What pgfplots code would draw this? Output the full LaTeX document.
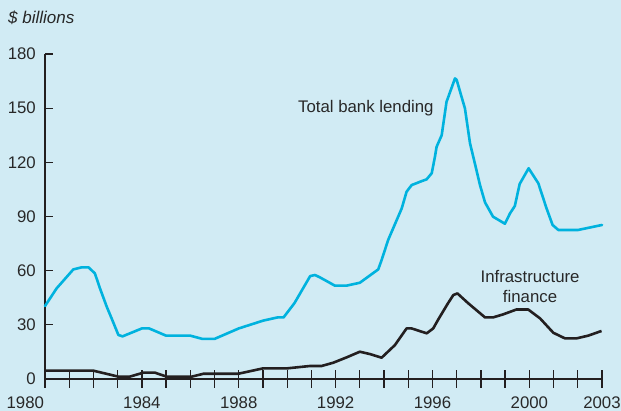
\documentclass[border=0pt]{standalone}
\usepackage{fontspec}
\setmainfont{Liberation Sans}
\usepackage{pgfplots}
\pgfplotsset{compat=1.18}
\definecolor{bg}{RGB}{209,235,244}
\definecolor{cyanl}{RGB}{0,178,222}
\definecolor{darkl}{RGB}{35,31,32}
\definecolor{txt}{RGB}{40,40,40}
\pgfplotsset{common/.style={
  at={(0pt,0pt)}, anchor=south west,
  scale only axis, width=557pt, height=325pt,
  xmin=1980, xmax=2003, ymin=0, ymax=180,
  tick style={draw=darkl, line width=1.3pt},
  /pgf/number format/assume math mode=true,
  /pgf/number format/1000 sep={},
  ticklabel style={font=\fontsize{16.8}{20}\selectfont, text=txt, inner sep=0pt},
  clip=false,
}}
\begin{document}
\begin{tikzpicture}
\path[use as bounding box, fill=bg] (-45pt,-32pt) rectangle (576pt,379pt);
\node[anchor=west, inner sep=0pt, text=txt, font=\fontsize{17}{20}\selectfont\itshape] at (-37pt,361pt) {\$ billions};
\begin{axis}[common,
  axis x line=none, axis y line=left,
  axis line style={-, draw=darkl, line width=1.3pt},
  y axis line style={-},
  xtick=\empty,
  ytick={0,30,60,90,120,150,180},
  tick align=inside, major tick length=8pt,
  yticklabel style={anchor=east, xshift=-9pt},
]
\addplot[cyanl, line width=2.6pt, line join=round, line cap=round] coordinates {
(1980.0,40.4) (1980.48,50.2) (1981.17,60.7) (1981.5,61.8) (1981.8,61.8) (1982.06,58.5)
(1982.27,50.2) (1982.55,40) (1982.75,33.6) (1983.03,24.4) (1983.2,23.6) (1984.0,28)
(1984.3,28) (1985.0,24) (1986.0,24) (1986.5,22.2) (1987.0,22.2) (1988.0,28)
(1989.0,32.3) (1989.6,34.1) (1989.85,34.1) (1990.3,42) (1990.95,57) (1991.15,57.6)
(1991.35,56.3) (1991.97,51.7) (1992.45,51.7) (1993.0,53.3) (1993.76,60.7) (1993.9,65.9)
(1994.17,77) (1994.73,94.5) (1994.93,103.7) (1995.14,107.4) (1995.5,109.3) (1995.76,110.6)
(1995.97,114) (1996.1,123) (1996.17,128.6) (1996.38,135) (1996.58,153.5) (1996.93,166.5)
(1997.0,165.6) (1997.2,156.3) (1997.34,149.9) (1997.55,130.5) (1997.75,119.4) (1997.96,107.5)
(1998.17,97.8) (1998.5,89.9) (1998.99,86) (1999.2,91.7) (1999.4,95.8) (1999.6,108)
(1999.97,116.7) (2000.37,108.4) (2000.71,94.5) (2000.96,85.3) (2001.2,82.5) (2002.0,82.5)
(2003.0,85.3)
};
\addplot[darkl, line width=2.6pt, line join=round] coordinates {
(1980,4.6) (1982,4.6) (1983.03,1.3) (1983.5,1.3) (1984.06,3.5) (1984.54,3.5)
(1985.02,1.3) (1986.06,1.3) (1986.54,2.9) (1987.98,2.9) (1989.01,5.9) (1990.0,5.9)
(1990.94,7.2) (1991.42,7.2) (1991.9,9.0) (1992.46,12.0) (1993.0,15.1) (1993.42,13.8)
(1993.9,11.8) (1994.45,18.8) (1994.93,28) (1995.14,28) (1995.76,25.3) (1996.03,28)
(1996.24,33) (1996.62,41.5) (1996.86,46.5) (1997.03,47.4) (1997.48,41.9) (1998.17,34.1)
(1998.5,34.1) (1998.92,35.8) (1999.47,38.5) (1999.95,38.5) (2000.44,33.6) (2000.99,25.6)
(2001.47,22.5) (2001.95,22.5) (2002.43,24) (2002.98,26.6)
};
\node[text=txt, font=\fontsize{16.8}{20}\selectfont, inner sep=0pt] at (axis cs:1993.25,150) {Total bank lending};
\node[text=txt, font=\fontsize{16.8}{20}\selectfont, inner sep=0pt, align=center] at (axis cs:2000.03,51) {Infrastructure\\finance};
\end{axis}
\begin{axis}[common,
  axis x line=bottom, axis y line=none,
  axis line style={-, draw=darkl, line width=1.3pt},
  x axis line style={-},
  ytick=\empty,
  xtick={1980,1981,...,2003},
  xticklabels={\makebox[0pt][r]{1980}\hspace*{2pt},,,,1984,,,,1988,,,,1992,,,,1996,,,,2000,,,2003},
  tick align=center, major tick length=18pt,
  xticklabel style={anchor=north, yshift=-9pt},
]
\end{axis}
\end{tikzpicture}
\end{document}
